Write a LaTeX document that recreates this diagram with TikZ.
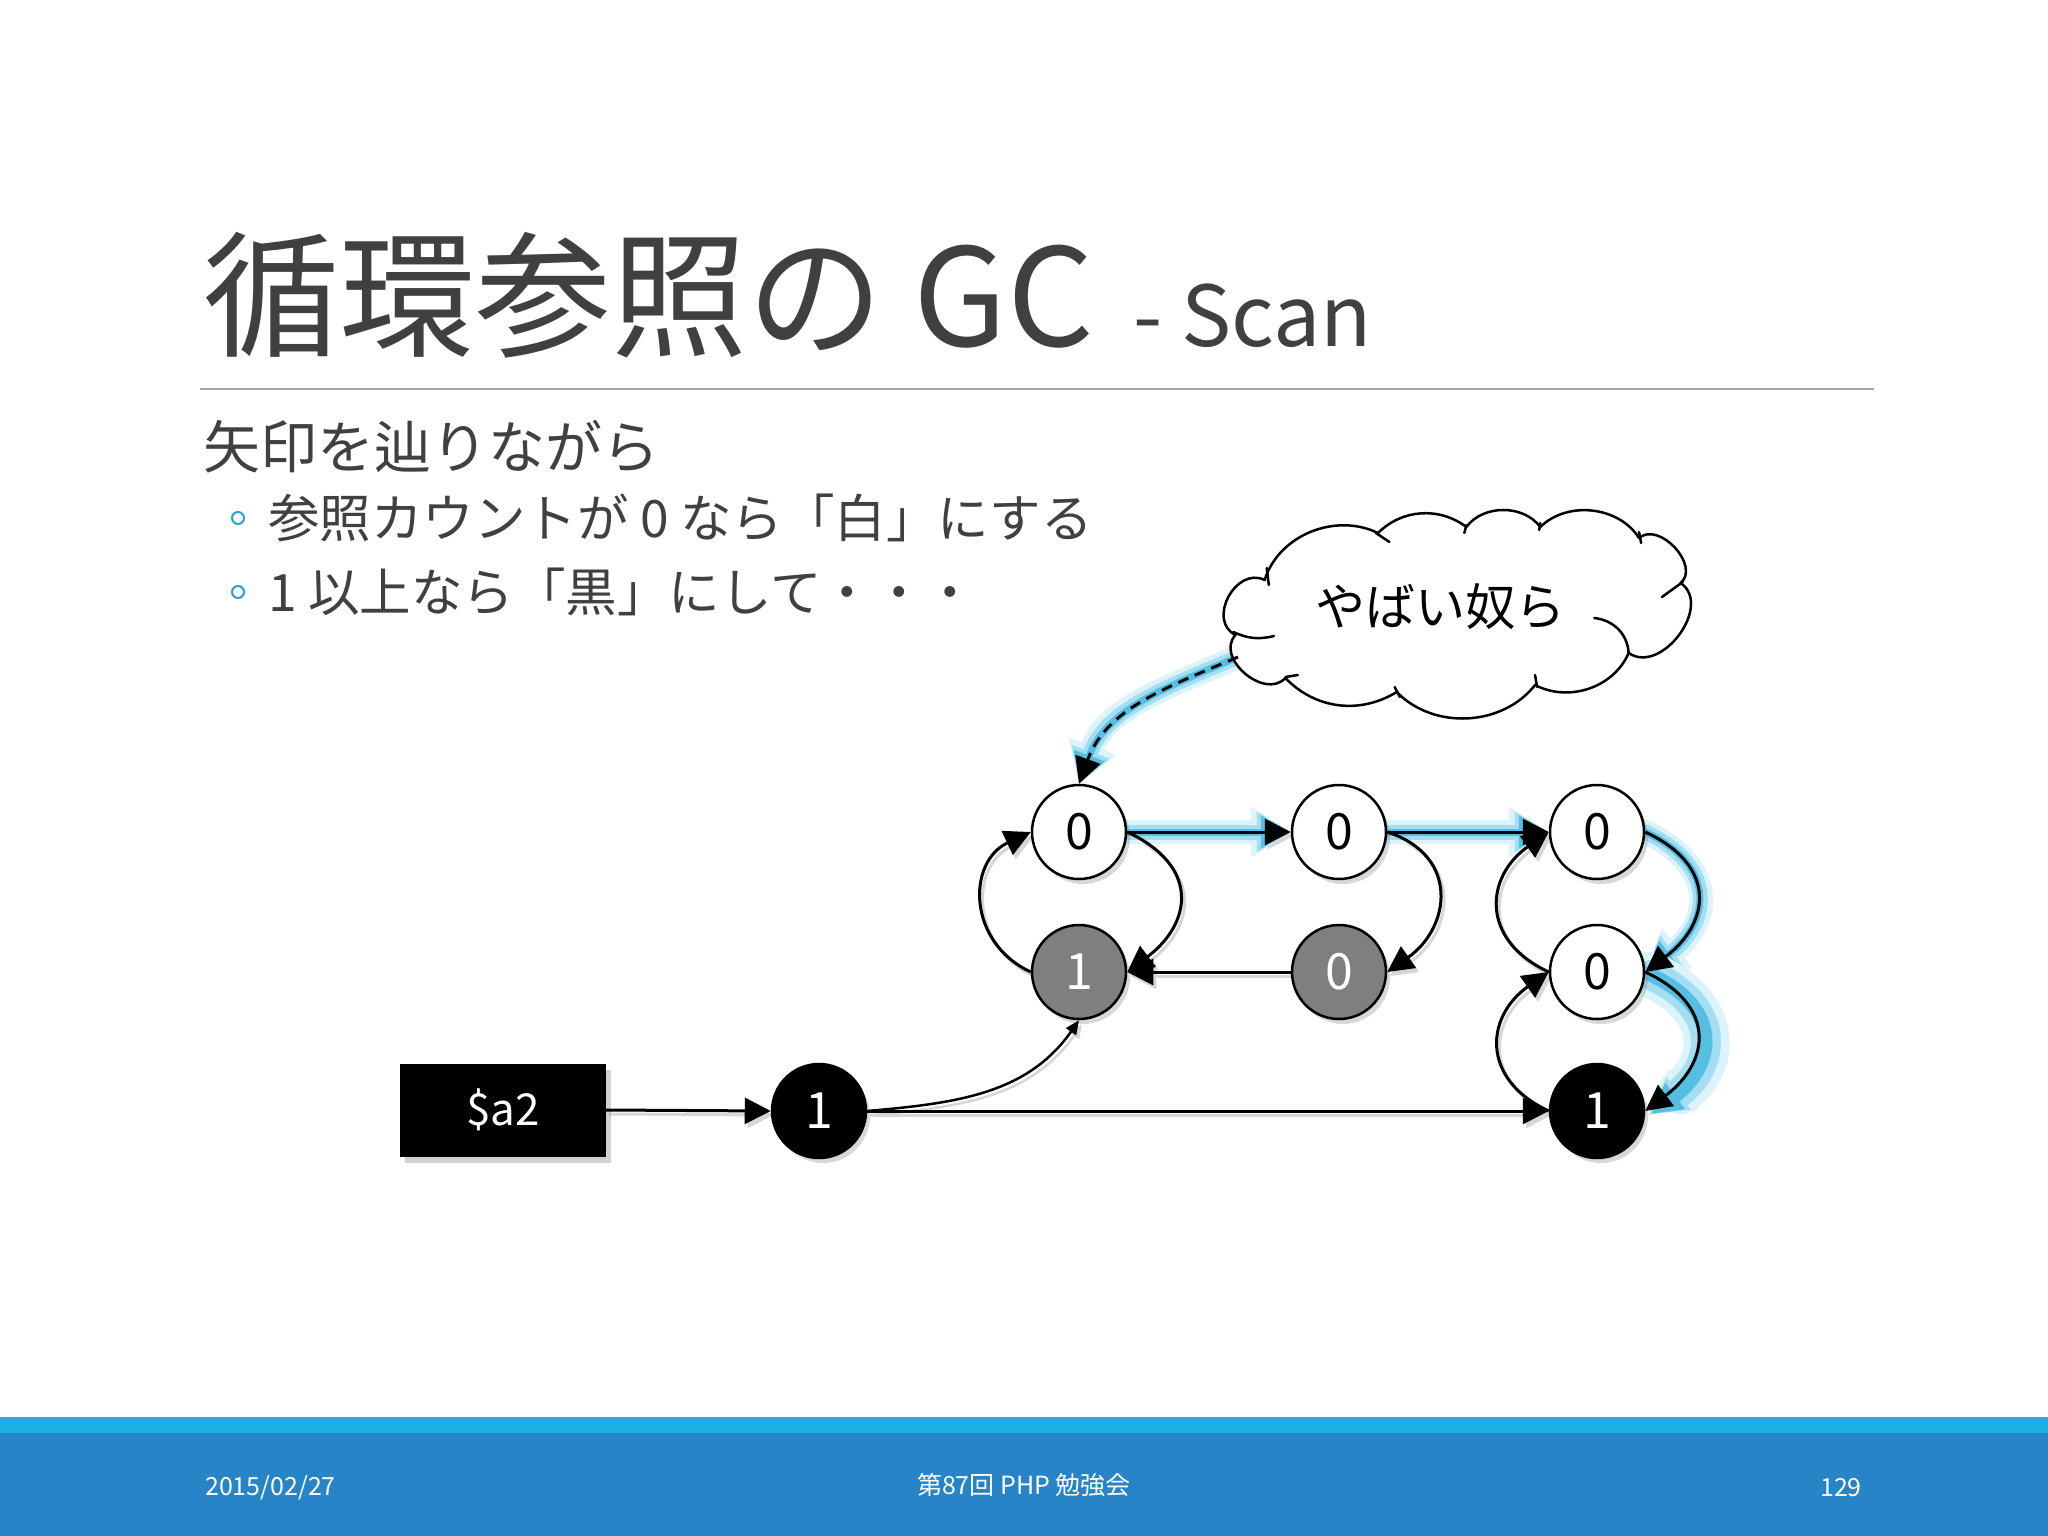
\documentclass[tikz,border=0pt]{standalone}
\usepackage{fontspec}
\setmainfont{Noto Sans CJK JP}
\usetikzlibrary{arrows.meta,shadows}
\definecolor{titlec}{HTML}{404040}
\definecolor{textc}{HTML}{404040}
\definecolor{rulec}{HTML}{A6A6A6}
\definecolor{bulc}{HTML}{27A2D8}
\definecolor{footA}{HTML}{1EAEE4}
\definecolor{footB}{HTML}{2784C6}
\definecolor{nodegray}{HTML}{7F7F7F}
\definecolor{glowA}{HTML}{DDF3FB}
\definecolor{glowB}{HTML}{A3DEF3}
\definecolor{glowC}{HTML}{55BFE3}
\pgfdeclarelayer{bglayer}
\pgfdeclarelayer{shadowlayer}
\pgfdeclarelayer{glowlayer}
\pgfsetlayers{bglayer,shadowlayer,glowlayer,main}
\newcommand\conn[2][]{%
  \begin{pgfonlayer}{shadowlayer}\draw[edge,#1,eshadow] #2;\end{pgfonlayer}%
  \draw[edge,#1] #2;}
\newcommand\glowit[1]{%
  \begin{pgfonlayer}{glowlayer}
  \draw[glA] #1; \draw[glB] #1; \draw[glC] #1;
  \end{pgfonlayer}}
\newcommand\glowwide[1]{%
  \begin{pgfonlayer}{glowlayer}
  \begin{scope}[transform canvas={shift={(6pt,-3pt)}}]
  \draw[glA,line width=46pt] #1; \draw[glB,line width=30pt] #1; \draw[glC,line width=14pt] #1;
  \end{scope}
  \end{pgfonlayer}}
\begin{document}
\begin{tikzpicture}[x=1pt,y=1pt,
  edge/.style={draw=black, line width=3pt, -{Triangle[length=26pt,width=26pt]}},
  edgesm/.style={draw=black, line width=2.5pt, -{Triangle[length=14pt,width=12pt]}},
  eshadow/.style={draw=black!16, transform canvas={shift={(3pt,-4pt)}}},
  glA/.style={draw=glowA, line width=24pt, line cap=round, line join=round, -{Triangle[length=40pt,width=48pt]}},
  glB/.style={draw=glowB, line width=15pt, line cap=round, line join=round, -{Triangle[length=34pt,width=38pt]}},
  glC/.style={draw=glowC, line width=7pt, line cap=round, line join=round, -{Triangle[length=30pt,width=31pt]}},
  cnode/.style={circle, draw=black, line width=2.5pt, minimum size=94pt, inner sep=0pt,
    font=\fontsize{50}{60}\selectfont,
    drop shadow={shadow xshift=4pt,shadow yshift=-5pt,opacity=0.3}},
  wnode/.style={cnode, fill=white, text=black},
  gnode/.style={cnode, fill=nodegray, text=white},
  bnode/.style={cnode, fill=black, text=white},
  abox/.style={rectangle, fill=black, text=white, minimum width=206pt, minimum height=93pt,
    inner sep=0pt, font=\fontsize{44}{50}\selectfont,
    drop shadow={shadow xshift=5pt,shadow yshift=-6pt,opacity=0.35}},
  foot/.style={text=white, font=\fontsize{25}{30}\selectfont, inner sep=0pt},
  bul/.style={circle, draw=bulc, line width=2pt, minimum size=12pt, inner sep=0pt},
  txt/.style={anchor=west, inner sep=0pt, text=textc},
  cloudline/.style={draw=black, line width=2.5pt, line cap=round, line join=round}
]
\useasboundingbox (0,0) rectangle (2048,-1536);
\begin{pgfonlayer}{bglayer}
\fill[white] (0,0) rectangle (2048,-1536);
\end{pgfonlayer}
% footer
\fill[footA] (0,-1417) rectangle (2048,-1434);
\fill[footB] (0,-1433) rectangle (2048,-1536);
\node[foot, anchor=west] (date) at (205,-1488) {2015/02/27};
\node[foot] (event) at (1024,-1485) {第87回 PHP 勉強会};
\node[foot, anchor=east] (page) at (1862,-1488) {129};
% title
\node[anchor=base west, inner sep=0pt, text=titlec, font=\fontsize{136}{150}\selectfont] (title) at (203,-346) {循環参照の GC};
\node[anchor=base west, inner sep=0pt, text=titlec, font=\fontsize{84}{96}\selectfont] (subt) at (1133,-346) {- Scan};
\draw[rulec, line width=2pt] (200,-389) -- (1874,-389);
% body text
\node[txt, font=\fontsize{57}{60}\selectfont] (l0) at (203,-447) {矢印を辿りながら};
\node[bul] (b1) at (238,-518) {};
\node[txt, font=\fontsize{51.5}{56}\selectfont] (l1) at (268,-518) {参照カウントが 0 なら「白」にする};
\node[bul] (b2) at (238,-592) {};
\node[txt, font=\fontsize{51.5}{56}\selectfont] (l2) at (268,-592) {1 以上なら「黒」にして・・・};
% cloud
\begin{scope}[shift={(1222,0)}, xscale=1.04, shift={(-1222,0)}]
\filldraw[cloudline, fill=white]
  (1235,-635) to[bend left=90, looseness=1.3] (1263,-580)
  to[bend left=50] (1372,-533)
  to[bend left=42] (1457,-527)
  to[bend left=55] (1528,-527)
  to[bend left=52] (1623,-538)
  to[bend left=90, looseness=1.1] (1663,-583)
  to[bend left=90, looseness=1.15] (1613,-653)
  to[bend left=48] (1523,-685)
  to[bend left=50] (1390,-692)
  to[bend left=40] (1283,-678)
  to[bend left=90, looseness=1.2] (1235,-635) -- cycle;
\draw[cloudline] (1233,-632) to[bend right=20] (1272,-636);
\draw[cloudline] (1265,-568) -- (1267,-585);
\draw[cloudline] (1370,-533) -- (1383,-542);
\draw[cloudline] (1457,-525) -- (1455,-533);
\draw[cloudline] (1528,-523) -- (1527,-530);
\draw[cloudline] (1623,-532) -- (1625,-543);
\draw[cloudline] (1665,-582) -- (1645,-597);
\draw[cloudline] (1613,-653) to[bend right=40] (1580,-618);
\draw[cloudline] (1523,-675) -- (1525,-687);
\draw[cloudline] (1388,-687) -- (1393,-697);
\draw[cloudline] (1283,-677) -- (1295,-675);
\end{scope}
\coordinate (cloudtip) at (1238,-657);
\node[inner sep=0pt, font=\fontsize{50}{60}\selectfont] (clt) at (1440,-607) {やばい奴ら};
% graph nodes
\node[abox] (a2) at (503,-1110) {\$a2};
\node[bnode] (n1) at (819,-1111) {1};
\node[wnode] (t1) at (1079,-832) {0};
\node[wnode] (t2) at (1339,-832) {0};
\node[wnode] (t3) at (1597,-832) {0};
\node[gnode] (m1) at (1079,-972) {1};
\node[gnode] (m2) at (1339,-972) {0};
\node[wnode] (m3) at (1597,-972) {0};
\node[bnode] (b3) at (1597,-1111) {1};
% glows
\glowit{(t1.east) -- (t2.west)}
\glowit{(t2.east) -- (t3.west)}
\glowit{(t3.east) to[out=-25, in=37, looseness=1.48] (m3.east)}
\glowwide{(m3.east) to[out=-25, in=37, looseness=1.48] (b3.east)}
\glowit{(cloudtip) to[out=203, in=70] (t1.north)}
% connectors
\conn{(a2.east) -- (n1.west)}
\conn{(n1.east) -- (b3.west)}
\conn[edgesm]{(n1.east) to[out=5, in=-125] (m1.south)}
\conn{(t1.east) -- (t2.west)}
\conn{(t2.east) -- (t3.west)}
\conn{(t1.east) to[out=-25, in=37, looseness=1.48] (m1.east)}
\conn{(m1.west) to[out=155, in=205, looseness=1.29] (t1.west)}
\conn{(m2.west) -- (m1.east)}
\conn{(t2.east) to[out=-18, in=35, looseness=1.41] (m2.east)}
\conn{(m3.west) to[out=155, in=215, looseness=1.41] (t3.west)}
\conn{(t3.east) to[out=-25, in=37, looseness=1.48] (m3.east)}
\conn{(m3.east) to[out=-25, in=37, looseness=1.48] (b3.east)}
\conn{(b3.west) to[out=155, in=215, looseness=1.41] (m3.west)}
\draw[edge, dash pattern=on 11pt off 7pt] (cloudtip) to[out=203, in=70] (t1.north);
\end{tikzpicture}
\end{document}
